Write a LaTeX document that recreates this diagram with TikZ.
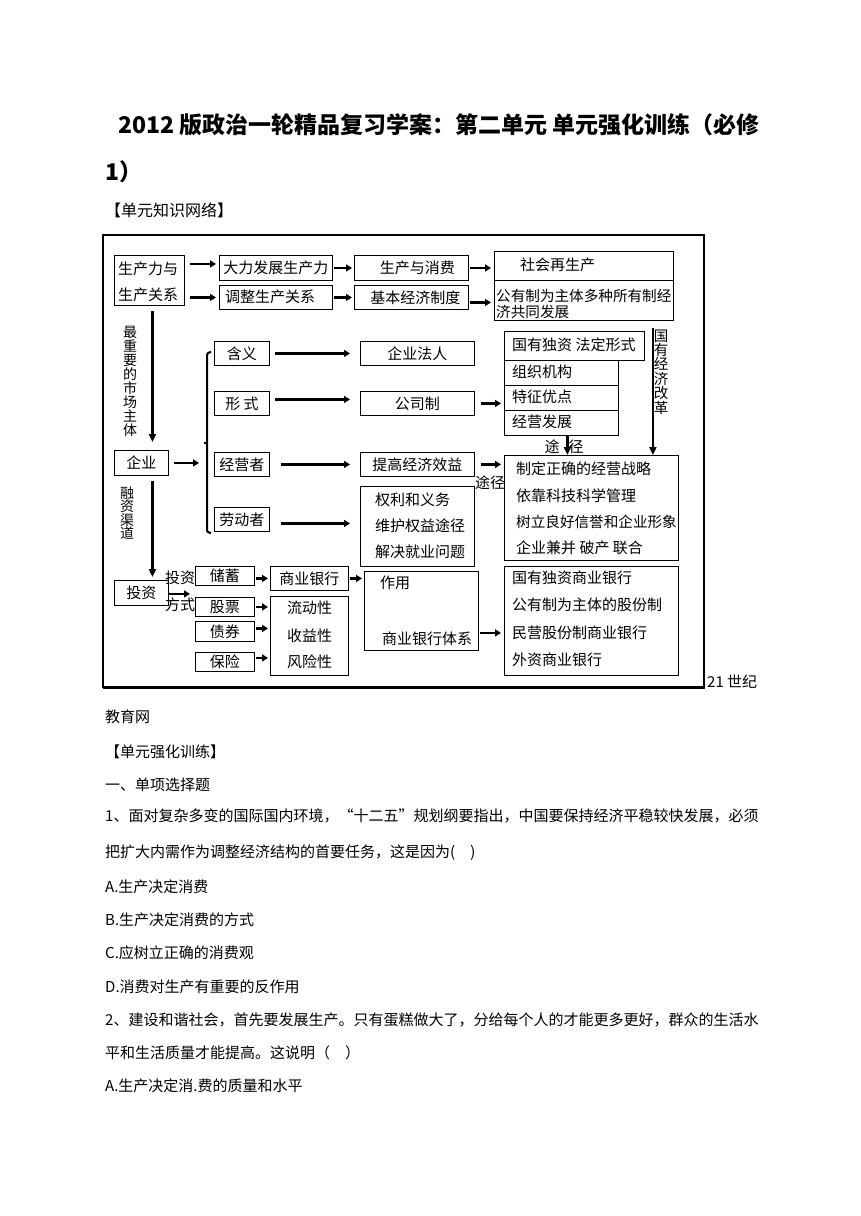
\documentclass[tikz,border=0pt]{standalone}
\usepackage{fontspec}
\setmainfont{Noto Sans CJK SC}
\usetikzlibrary{arrows.meta,calc}
\begin{document}
\begin{tikzpicture}[x=1pt,y=-1pt,
  box/.style={draw,line width=0.9pt,inner sep=0pt,anchor=north west,font=\fontsize{15}{16}\selectfont},
  txt/.style={inner sep=0pt,anchor=west,font=\fontsize{15}{16}\selectfont},
  body/.style={inner sep=0pt,anchor=west,font=\fontsize{15}{17}\selectfont},
  arr/.style={line width=2.4pt,-{Triangle[length=6pt,width=7pt]}},
  varr/.style={line width=2.6pt,-{Triangle[length=8pt,width=7pt]}},
  vtxt/.style={inner sep=0pt,align=center}
]
\useasboundingbox (0,0) rectangle (860,1216);
\fill[white] (0,0) rectangle (860,1216);

% heading
\node[inner sep=0pt,anchor=west,font=\fontsize{23}{26}\selectfont\bfseries] (title) at (118,125) {2012 版政治一轮精品复习学案：第二单元 单元强化训练（必修};
\node[inner sep=0pt,anchor=west,font=\fontsize{23}{26}\selectfont\bfseries] (title2) at (105,172) {1）};
\node[body,font=\fontsize{16}{18}\selectfont] (net) at (105,210) {【单元知识网络】};

% frame
\draw[line width=1.2pt] (103,235) rectangle (704,687);
\draw[line width=2.6pt] (704,235) -- (704,688) -- (103,688);

% boxes
\node[box,minimum width=70pt,minimum height=50pt] (a1) at (114,255) {};
\node[txt] (a1t1) at (118,269) {生产力与};
\node[txt] (a1t2) at (118,295) {生产关系};
\node[box,minimum width=113pt,minimum height=25pt] (b1) at (219,255) {大力发展生产力};
\node[box,minimum width=113pt,minimum height=24pt] (b2) at (219,285) {};
\node[txt] (b2t) at (225,297) {调整生产关系};
\node[box,minimum width=114pt,minimum height=25pt] (c1) at (354,255) {\hspace{12pt}生产与消费};
\node[box,minimum width=114pt,minimum height=24pt] (c2) at (354,285) {\hspace{8pt}基本经济制度};
\node[box,minimum width=179pt,minimum height=29pt] (d1) at (494,251) {};
\node[txt] (d1t) at (520,265) {社会再生产};
\node[box,minimum width=179pt,minimum height=40pt] (d2) at (494,280) {};
\node[txt,font=\fontsize{14.6}{16}\selectfont] (d2t1) at (496,296) {公有制为主体多种所有制经};
\node[txt,font=\fontsize{14.6}{16}\selectfont] (d2t2) at (496,312) {济共同发展};
\node[box,minimum width=140pt,minimum height=29pt] (e0) at (504,331) {};
\node[txt] (e0t) at (512,345) {国有独资 法定形式};
\node[box,minimum width=114pt,minimum height=25pt] (e1) at (504,360) {};
\node[txt] (e1t) at (512,372) {组织机构};
\node[box,minimum width=114pt,minimum height=25pt] (e2) at (504,385) {};
\node[txt] (e2t) at (512,397) {特征优点};
\node[box,minimum width=114pt,minimum height=25pt] (e3) at (504,410) {};
\node[txt] (e3t) at (512,422) {经营发展};
\node[box,minimum width=174pt,minimum height=105pt] (f) at (504,455) {};
\node[txt] (ft1) at (516,469) {制定正确的经营战略};
\node[txt] (ft2) at (516,496) {依靠科技科学管理};
\node[txt,font=\fontsize{14.6}{16}\selectfont] (ft3) at (516,522) {树立良好信誉和企业形象};
\node[txt] (ft4) at (516,548) {企业兼并\ 破产\ 联合};
\node[box,minimum width=174pt,minimum height=109pt] (g) at (504,566) {};
\node[txt] (gt1) at (512,578) {国有独资商业银行};
\node[txt] (gt2) at (512,605) {公有制为主体的股份制};
\node[txt] (gt3) at (512,633) {民营股份制商业银行};
\node[txt] (gt4) at (512,660) {外资商业银行};

\node[box,minimum width=55pt,minimum height=24pt] (h1) at (214,341) {含义};
\node[box,minimum width=55pt,minimum height=24pt] (h2) at (214,391) {形\ 式};
\node[box,minimum width=55pt,minimum height=24pt] (h3) at (214,452) {经营者};
\node[box,minimum width=55pt,minimum height=24pt] (h4) at (214,507) {劳动者};
\node[box,minimum width=114pt,minimum height=24pt] (i1) at (360,341) {企业法人\hspace{14pt}};
\node[box,minimum width=114pt,minimum height=24pt] (i2) at (360,391) {公司制};
\node[box,minimum width=114pt,minimum height=24pt] (i3) at (360,452) {提高经济效益};
\node[box,minimum width=114pt,minimum height=80pt] (i4) at (360,486) {};
\node[txt] (i4t1) at (375,500) {权利和义务};
\node[txt] (i4t2) at (375,526) {维护权益途径};
\node[txt] (i4t3) at (375,552) {解决就业问题};

\node[box,minimum width=54pt,minimum height=25pt] (qy) at (114,450) {企业};
\node[box,minimum width=54pt,minimum height=25pt] (tz) at (114,580) {投资};
\node[box,minimum width=59pt,minimum height=19pt] (s1) at (195,566) {储蓄};
\node[box,minimum width=59pt,minimum height=19pt] (s2) at (195,597) {股票};
\node[box,minimum width=59pt,minimum height=20pt] (s3) at (195,621) {债券};
\node[box,minimum width=59pt,minimum height=19pt] (s4) at (195,652) {保险};
\node[box,minimum width=78pt,minimum height=24pt] (sy) at (270,566) {商业银行};
\node[box,minimum width=78pt,minimum height=79pt] (ld) at (270,596) {};
\node[txt] (ldt1) at (287,608) {流动性};
\node[txt] (ldt2) at (287,636) {收益性};
\node[txt] (ldt3) at (287,662) {风险性};
\node[box,minimum width=114pt,minimum height=79pt] (zy) at (364,571) {};
\node[txt] (zyt1) at (380,583) {作用};
\node[txt] (zyt2) at (382,639) {商业银行体系};

% labels
\node[vtxt,font=\fontsize{14}{14}\selectfont] (lab1) at (130,381) {最\\重\\要\\的\\市\\场\\主\\体};
\node[vtxt,font=\fontsize{14}{13.5}\selectfont] (lab2) at (127,513) {融\\资\\渠\\道};
\node[vtxt,font=\fontsize{14.5}{14.4}\selectfont] (lab3) at (661,372) {国\\有\\经\\济\\改\\革};
\node[inner sep=0pt,font=\fontsize{15}{16}\selectfont] (lab4) at (564,447) {途\hspace{9pt}径};
\node[inner sep=0pt,font=\fontsize{15}{16}\selectfont] (lab5) at (490,483) {途径};
\node[inner sep=0pt,font=\fontsize{15}{16}\selectfont] (lab6) at (180,578) {投资};
\node[inner sep=0pt,font=\fontsize{15}{16}\selectfont] (lab7) at (180,605) {方式};

% brace
\draw[line width=2pt] (211,352) .. controls (207,353) .. (207,358) -- (207,528) .. controls (207,532) .. (211,533);
\draw[line width=1.5pt] (204,443) -- (207,443);
\coordinate (brc) at (207,463);

% horizontal arrows
\draw[arr,shorten <=5pt,shorten >=3pt] ($(a1.east|-b1.west)+(0,-4)$) -- ($(b1.west)+(0,-4)$);
\draw[arr,shorten <=5pt,shorten >=3pt] (a1.east|-b2.west) -- (b2.west);
\draw[arr,shorten <=1pt,shorten >=2pt] (b1.east) -- (b1.east-|c1.west);
\draw[arr,shorten <=1pt,shorten >=2pt] (b2.east) -- (b2.east-|c2.west);
\draw[arr,shorten <=1pt,shorten >=3pt] (c1.east) -- (c1.east-|d1.west);
\draw[arr,shorten <=1pt,shorten >=3pt] ($(c2.east)+(0,5)$) -- ($(c2.east-|d2.west)+(0,5)$);
\draw[arr,shorten <=5pt,shorten >=10pt] (h1.east) -- (i1.west);
\draw[arr,shorten <=5pt,shorten >=10pt] ($(h2.east)+(0,-4)$) -- ($(i2.west)+(0,-4)$);
\draw[arr,shorten <=11pt,shorten >=10pt] (h3.east) -- (i3.west);
\draw[arr,shorten <=11pt,shorten >=10pt] ($(h4.east)+(0,4)$) -- ($(h4.east-|i4.west)+(0,4)$);
\draw[arr,shorten <=6pt,shorten >=3pt] (i2.east) -- (i2.east-|e2.west);
\draw[arr,shorten <=6pt,shorten >=3pt] (i3.east) -- (i3.east-|f.west);
\draw[arr,shorten <=5pt,shorten >=8pt] (qy.east) -- (qy.east-|brc);
\draw[arr,shorten <=0pt,shorten >=5pt] ($(tz.east)+(0,1)$) -- ($(tz.east-|s2.west)+(0,1)$);
\draw[arr,shorten <=1pt,shorten >=2pt] (sy.west-|s1.east) -- (sy.west);
\draw[arr,shorten <=1pt,shorten >=2pt] (sy.east) -- (sy.east-|zy.west);
\draw[arr,shorten <=1pt,shorten >=2pt] (s2.east) -- (s2.east-|ld.west);
\draw[arr,shorten <=1pt,shorten >=2pt] ($(s3.east)+(0,-3)$) -- ($(s3.east-|ld.west)+(0,-3)$);
\draw[arr,shorten <=1pt,shorten >=2pt] ($(s4.east)+(0,-4)$) -- ($(s4.east-|ld.west)+(0,-4)$);
\draw[arr,shorten <=1pt,shorten >=3pt] ($(zy.east)+(0,22)$) -- ($(zy.east-|g.west)+(0,22)$);

% vertical arrows
\draw[varr] ($(a1.south)+(3,5)$) -- ($(a1.south|-qy.north)+(3,-8)$);
\draw[varr] ($(qy.south)+(11,5)$) -- ($(qy.south|-tz.north)+(11,-3)$);
\draw[varr] ($(d2.south east)+(-21,7)$) -- ($(f.north east)+(-26,0)$);
\draw[varr] ($(e3.south)+(6,0)$) -- ($(e3.south|-f.north)+(6,0)$);

% body text
\node[body] (w1) at (707,682) {21\ 世纪};
\node[body] (w2) at (105,717) {教育网};
\node[body] (w3) at (105,752) {【单元强化训练】};
\node[body] (w4) at (105,785) {一、单项选择题};
\node[body] (w5) at (105,816) {1、面对复杂多变的国际国内环境，“十二五”规划纲要指出，中国要保持经济平稳较快发展，必须};
\node[body] (w6) at (105,853) {把扩大内需作为调整经济结构的首要任务，这是因为(\quad )};
\node[body] (w7) at (105,887) {A.生产决定消费};
\node[body] (w8) at (105,920) {B.生产决定消费的方式};
\node[body] (w9) at (105,953) {C.应树立正确的消费观};
\node[body] (w10) at (105,987) {D.消费对生产有重要的反作用};
\node[body] (w11) at (105,1020) {2、建设和谐社会，首先要发展生产。只有蛋糕做大了，分给每个人的才能更多更好，群众的生活水};
\node[body] (w12) at (105,1053) {平和生活质量才能提高。这说明（\quad ）};
\node[body] (w13) at (105,1086) {A.生产决定消.费的质量和水平};
\end{tikzpicture}
\end{document}
